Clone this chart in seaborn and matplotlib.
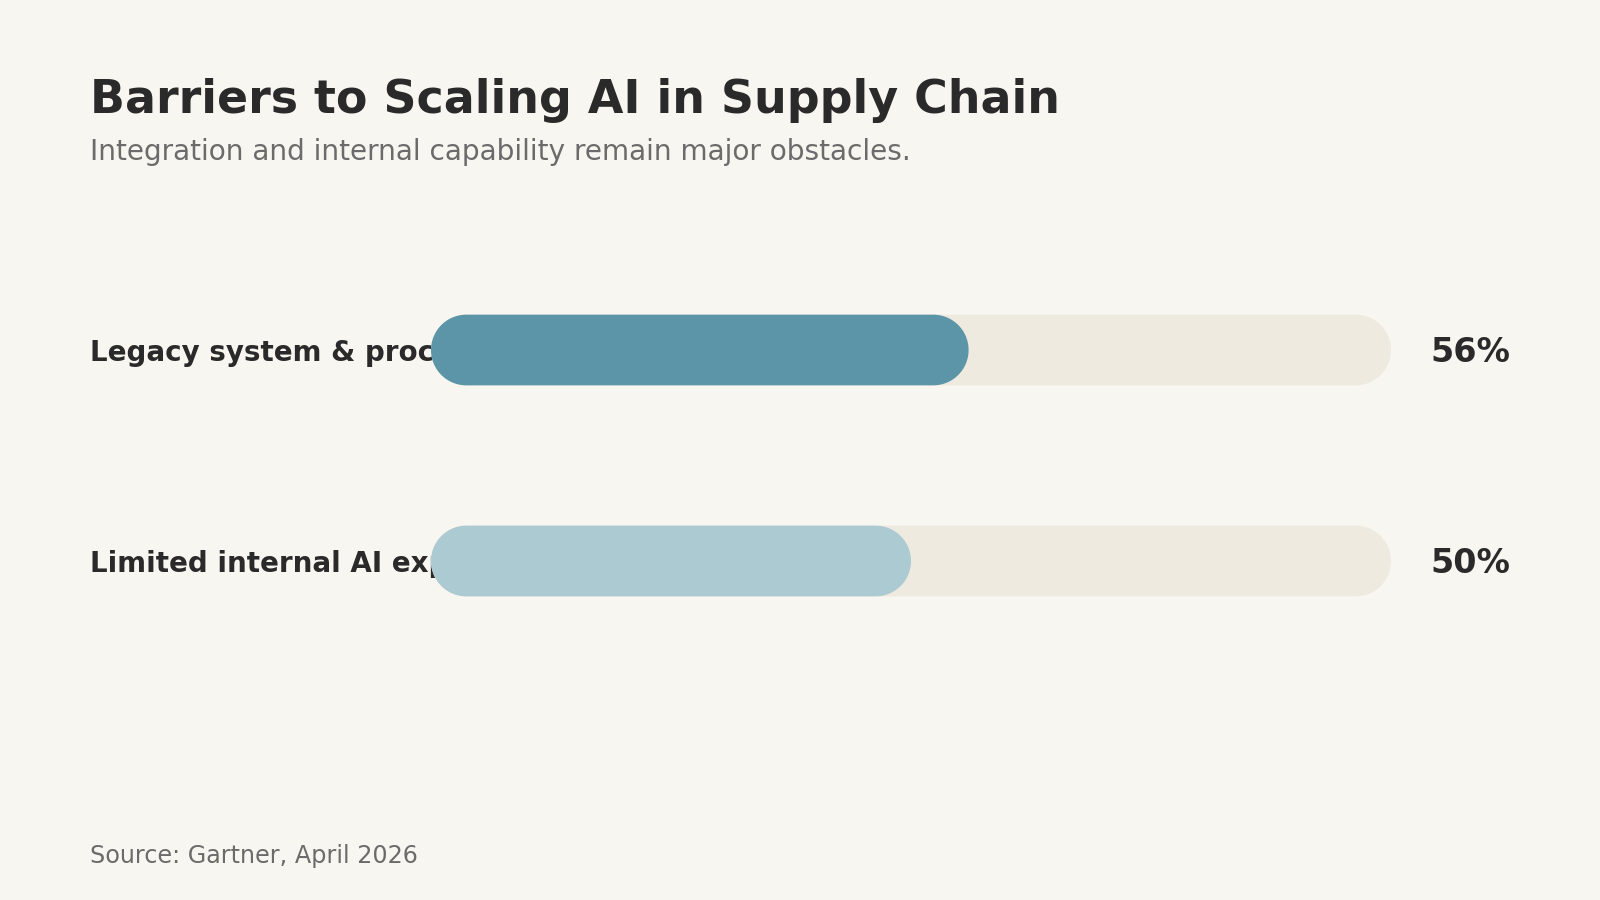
import matplotlib
matplotlib.use("Agg")
import matplotlib.pyplot as plt
import matplotlib.transforms as mtransforms
from matplotlib.patches import PathPatch
from matplotlib.path import Path
import numpy as np
import seaborn as sns
import pandas as pd

# Chart data
categories = ["Legacy system & process integration", "Limited internal AI expertise"]
shares = [56, 50]
value_labels = ["56%", "50%"]
track_max = [100, 100]

# Colours
BG = "#F8F6F0"
TRACK = "#EEEAE0"
BAR_COLORS = ["#5C95A8", "#ACCAD2"]
DARK = "#2A2A2A"
GREY = "#6B6B6B"

sns.set_style("white")
plt.rcParams["font.family"] = ["DejaVu Sans"]

W, H = 1600, 900
fig = plt.figure(figsize=(16, 9), dpi=100, facecolor=BG)

# bar area: x 431..1391 px, rows centred at 350 and 561 px
row_gap = 211
top_px = 350 - row_gap / 2
ax = fig.add_axes([431 / W, 1 - (top_px + 2 * row_gap) / H, 960 / W, 2 * row_gap / H])
bar_h = 70.7 / row_gap

df = pd.DataFrame({"barrier": categories, "share": shares, "track": track_max})
sns.barplot(data=df, x="track", y="barrier", color=TRACK, width=bar_h,
            saturation=1, ax=ax, zorder=1)
sns.barplot(data=df, x="share", y="barrier", hue="barrier", palette=BAR_COLORS,
            width=bar_h, saturation=1, legend=False, ax=ax, zorder=2)
ax.set_xlim(0, 100)
ax.set_ylim(len(categories) - 0.5, -0.5)
ax.set_axis_off()


def pill_path(x, y, w, h, rx):
    # capsule shape with true half-circle ends (rx in x units, h/2 in y units)
    ry = h / 2
    yc = y + ry
    t_right = np.linspace(-np.pi / 2, np.pi / 2, 60)
    t_left = np.linspace(np.pi / 2, 3 * np.pi / 2, 60)
    right = np.column_stack([x + w - rx + rx * np.cos(t_right), yc + ry * np.sin(t_right)])
    left = np.column_stack([x + rx + rx * np.cos(t_left), yc + ry * np.sin(t_left)])
    verts = np.vstack([right, left, right[:1]])
    codes = [Path.MOVETO] + [Path.LINETO] * (len(verts) - 2) + [Path.CLOSEPOLY]
    return Path(verts, codes)


# turn rectangles into pills
px_x = 960 / 100
radius_x = (70.7 / 2) / px_x
for p in list(ax.patches):
    if not hasattr(p, "get_width"):
        continue
    path = pill_path(p.get_x(), p.get_y(), p.get_width(), p.get_height(), radius_x)
    ax.add_patch(PathPatch(path, facecolor=p.get_facecolor(), edgecolor="none",
                           zorder=p.get_zorder()))
    p.remove()

# labels: drawn beneath the bars like in the reference
blend = mtransforms.blended_transform_factory(fig.transFigure, ax.transData)
for i, (cat, lab) in enumerate(zip(categories, value_labels)):
    ax.text(90 / W, i + 11 / row_gap, cat, transform=blend, fontsize=20,
            fontweight="bold", color=DARK, va="baseline", ha="left", zorder=0)
    ax.text(1430 / W, i + 12 / row_gap, lab, transform=blend, fontsize=24,
            fontweight="bold", color=DARK, va="baseline", ha="left", zorder=3)

# titles
fig.text(90 / W, 1 - 113.3 / H, "Barriers to Scaling AI in Supply Chain",
         fontsize=33, fontweight="bold", color=DARK, va="baseline", ha="left")
fig.text(90 / W, 1 - 160 / H, "Integration and internal capability remain major obstacles.",
         fontsize=20.2, color=GREY, va="baseline", ha="left")
fig.text(90 / W, 1 - 862.7 / H, "Source: Gartner, April 2026",
         fontsize=17.2, color=GREY, va="baseline", ha="left")

fig.savefig("out.png", dpi=100, facecolor=BG)
